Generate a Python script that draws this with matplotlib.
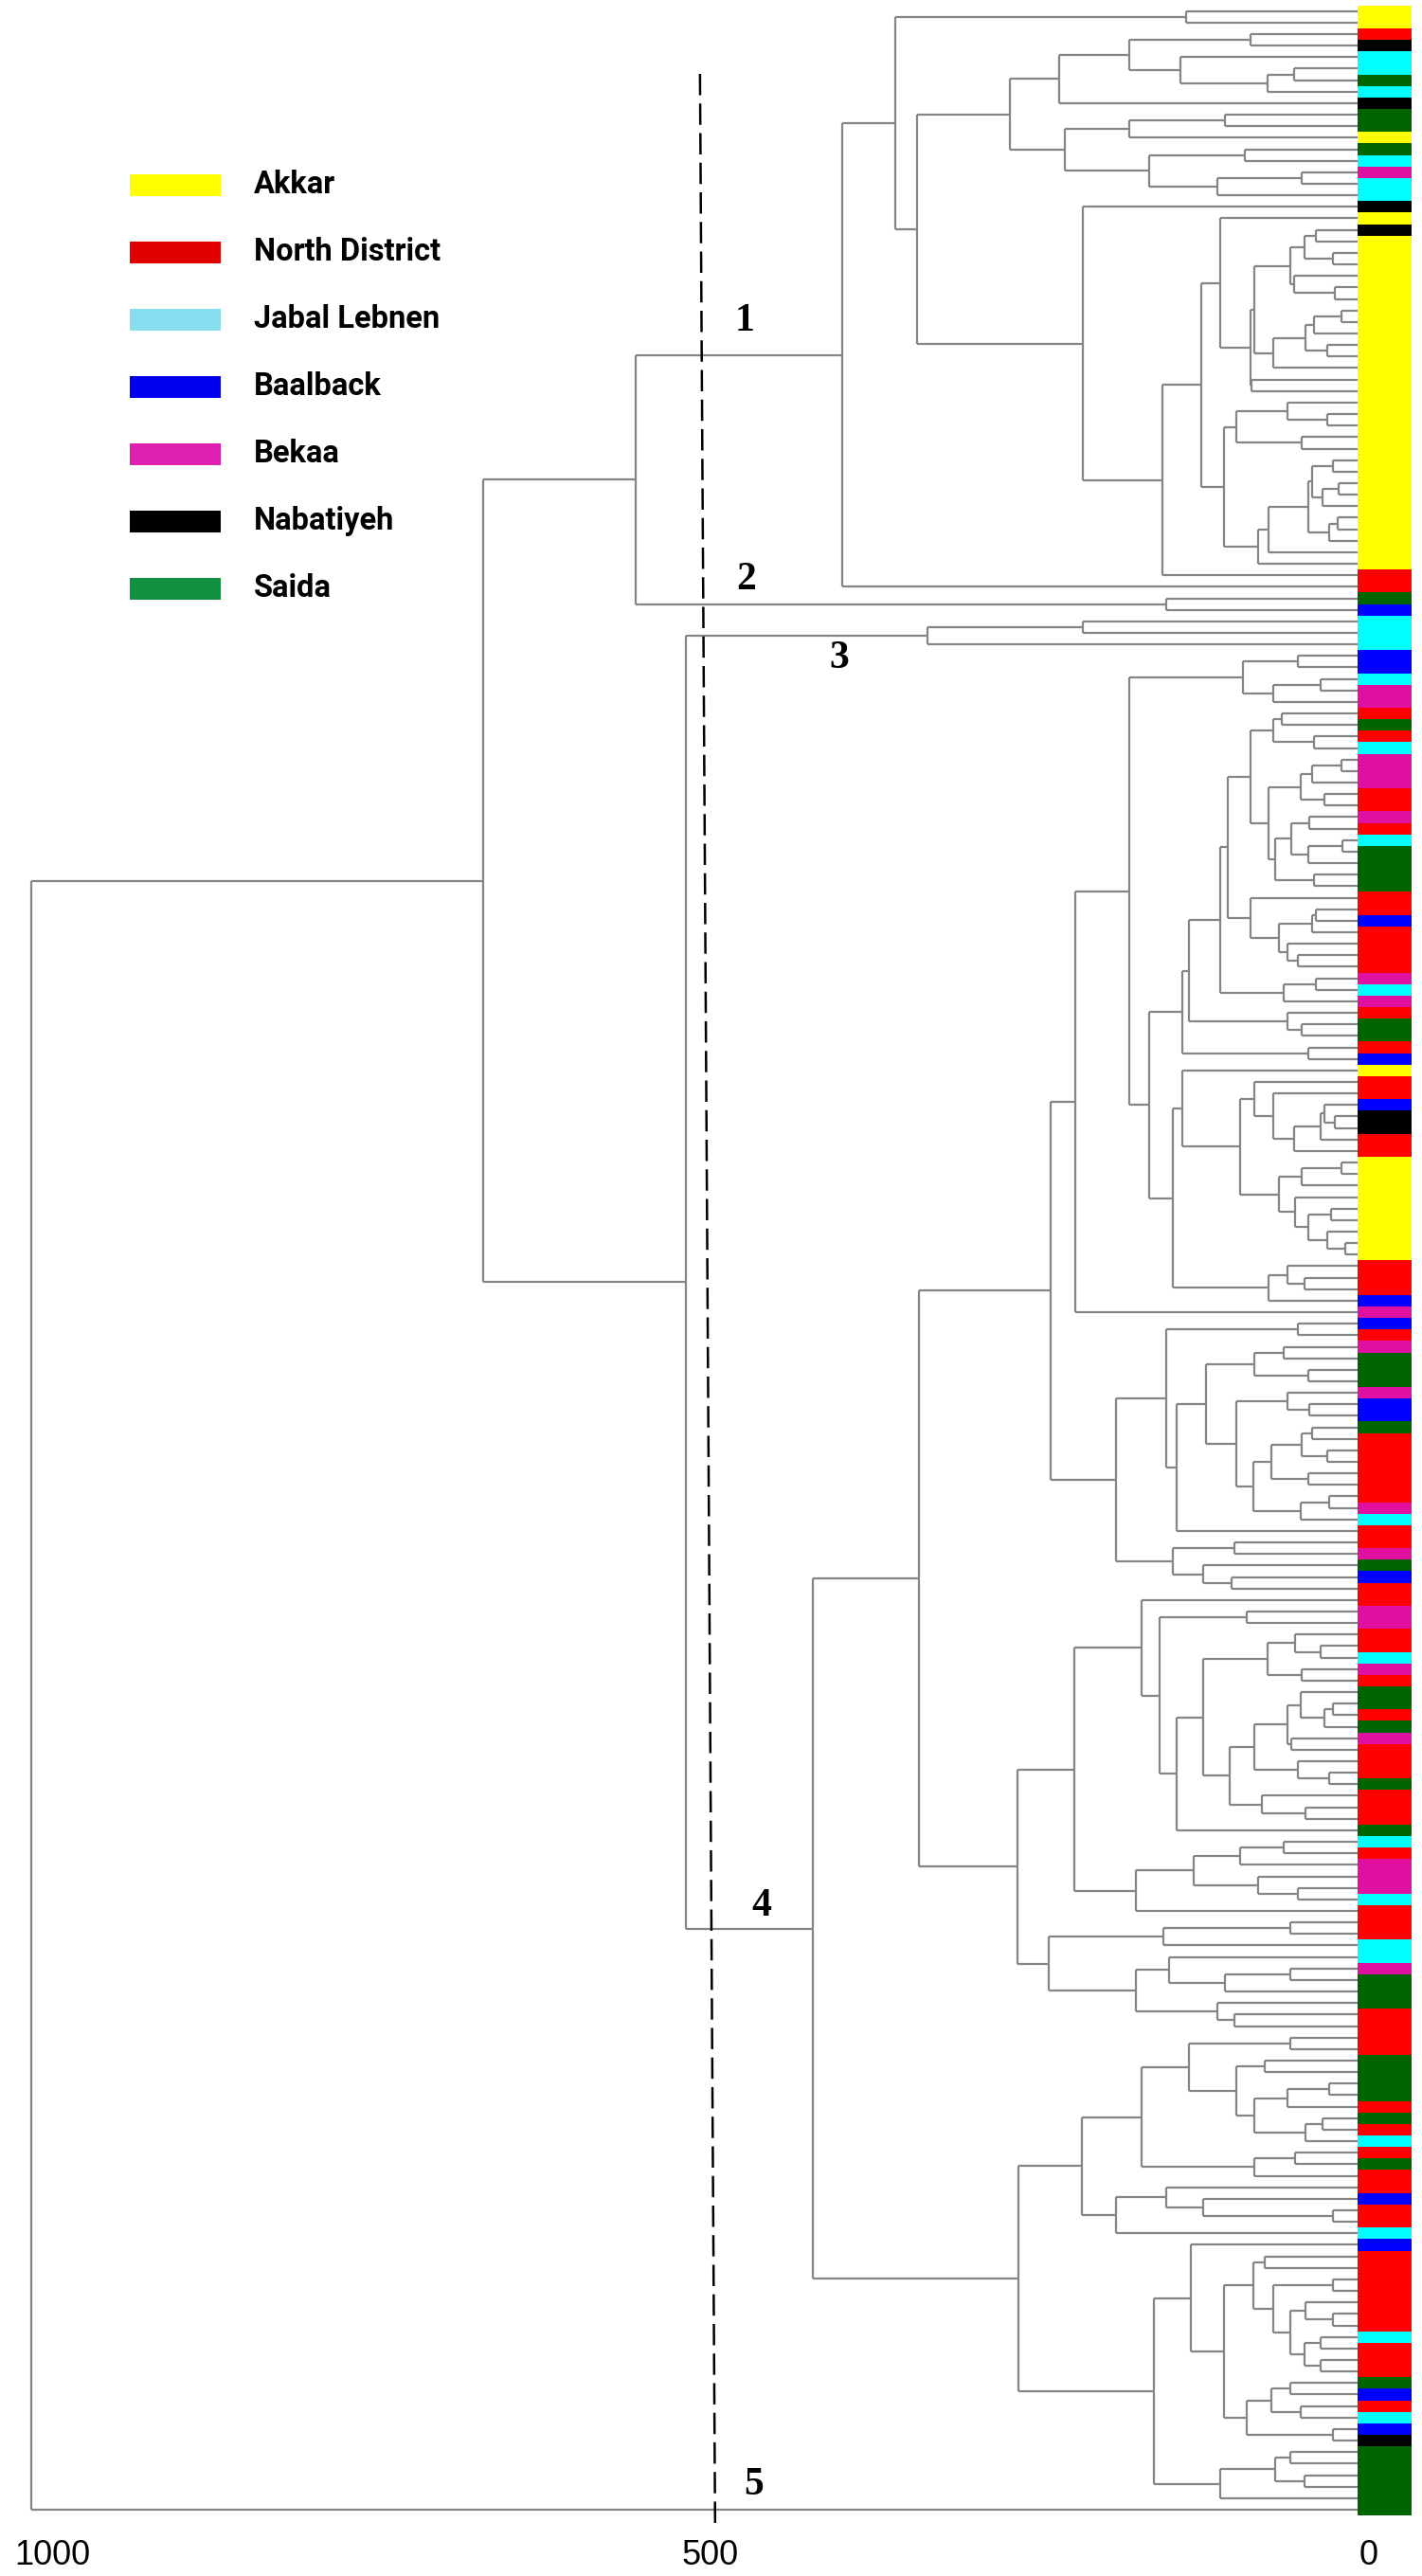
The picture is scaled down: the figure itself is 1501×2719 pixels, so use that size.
import matplotlib
matplotlib.use("Agg")
import matplotlib.pyplot as plt
from matplotlib.collections import LineCollection
from matplotlib.patches import Rectangle

# region codes -> names and colours
codes = ['Y', 'R', 'C', 'B', 'M', 'K', 'G']
regions = ['Akkar', 'North District', 'Jabal Lebnen', 'Baalback', 'Bekaa', 'Nabatiyeh', 'Saida']
legend_colors = ['#FFFF00', '#E00000', '#88DDEE', '#0000EE', '#E020B0', '#000000', '#109040']
bar_colors = ['#FFFF00', '#FF0000', '#00FFFF', '#0000FF', '#E010A0', '#000000', '#006400']

# tree nodes: [height, upper, lower], leaves are region codes
cluster_1 = [400,
    [360,
        [139, 'Y', 'Y'],
        [343,
            [273,
                [235,
                    [182, [90, 'R', 'K'],
                          [143, 'C', [77, [57, 'C', 'G'], 'C']]],
                    'K'],
                [231,
                    [182, [109, 'G', 'G'], 'Y'],
                    [167, [94, 'G', 'C'], [115, [51, 'M', 'C'], 'C']]]],
            [217, 'K',
                [157,
                    [127,
                        [113, 'Y',
                            [90,
                                [87,
                                    [60, [49, [40, 'K', 'Y'], [27, 'Y', 'Y']],
                                         [57, 'Y', [26, 'Y', 'Y']]],
                                    [73, [48, [42, [21, 'Y', 'Y'], 'Y'], [32, 'Y', 'Y']], 'Y']],
                                [89, 'Y', 'Y']]],
                        [110,
                            [101, [62, 'Y', [32, 'Y', 'Y']], [51, 'Y', 'Y']],
                            [84, [76, [46, [43, [27, 'Y', 'Y'], [35, [23, 'Y', 'Y'], 'Y']],
                                           [30, [24, 'Y', 'Y'], 'Y']],
                                      'Y'],
                                 'Y']]],
                    'R']]]],
    'R']

cluster_2 = [154, 'G', 'B']
cluster_3 = [335, [217, 'C', 'C'], 'C']

c4_a = [182,
    [96, [54, 'B', 'B'], [73, [37, 'C', 'M'], 'M']],
    [167,
        [142,
            [137,
                [113,
                    [107,
                        [90,
                            [73, [66, 'R', 'G'], [42, 'R', 'C']],
                            [76,
                                [52, [43, [21, 'M', 'M'], 'M'], [34, 'R', 'R']],
                                [71, [59, [45, 'M', 'R'], [46, [20, 'C', 'G'], 'G']],
                                     [42, 'G', 'G']]]],
                        [90, 'R', [68, [43, [40, 'R', 'B'], 'R'], [62, 'R', [54, 'R', 'R']]]]],
                    [65, [40, 'M', 'C'], 'M']],
                [62, 'R', [51, 'G', 'G']]],
            [46, 'R', 'B']],
        [149,
            [142, 'Y',
                [98,
                    [87, 'R', [73, 'R', [57, [37, [34, 'B', [26, 'K', 'K']], 'R'], 'R']]],
                    [68, [51, [21, 'Y', 'Y'], 'Y'],
                         [56, 'Y', [46, [29, 'Y', 'Y'], [32, 'Y', [18, 'Y', 'Y']]]]]]],
            [76, [62, 'R', [49, 'R', 'R']], 'B']]]]

c4_b = [192,
    [154, [54, 'B', 'R'],
        [146,
            [124,
                [87, [65, 'M', 'G'], [46, 'G', 'G']],
                [101,
                    [62, 'M', [45, 'B', 'B']],
                    [88,
                        [74, [51, [43, 'G', 'R'], [32, 'R', 'R']], [46, 'R', 'R']],
                        [52, [30, 'R', 'M'], 'C']]]],
            'R']],
    [149, [102, 'R', 'M'], [126, 'G', [104, 'B', 'R']]]]

c4_c = [224,
    [173, 'R',
        [159, [93, 'M', 'M'],
            [146,
                [126,
                    [77, [56, 'R', [37, 'R', 'C']], [51, 'M', 'R']],
                    [106,
                        [87,
                            [62, [52, 'G', [34, [27, 'G', 'R'], 'G']], [59, 'M', 'R']],
                            [54, 'R', [30, 'R', 'G']]],
                        [81, 'R', [48, 'R', 'R']]]],
                'G']]],
    [177, [133, [98, [65, 'C', 'R'], 'M'], [84, 'M', [54, 'M', 'C']]], 'R']]

c4_d = [243,
    [156, [60, 'R', 'R'], 'C'],
    [177, [152, 'C', [109, [60, 'M', 'G'], 'G']], [115, 'G', [102, 'R', 'R']]]]

c4_e = [218,
    [173,
        [137, [60, 'R', 'R'],
            [101, [79, 'G', 'G'],
                [87, [62, [30, 'G', 'G'], 'R'], [48, [35, 'G', 'R'], 'C']]]],
        [87, [56, 'R', 'G'], 'R']],
    [192, [154, 'R', [126, 'B', [27, 'R', 'R']]], 'C']]

c4_f = [163,
    [135, 'B',
        [110,
            [88, [79, 'R', 'R'],
                [73, [27, 'R', 'R'],
                    [60, [48, 'R', [27, 'R', 'R']], [49, [37, 'C', 'R'], [37, 'R', 'R']]]]],
            [93, [74, [60, 'G', 'B'], [52, 'R', 'C']], [27, 'B', 'K']]]],
    [113, [71, [60, 'G', 'G'], [49, 'G', 'G']], 'G']]

cluster_4 = [422, [342, [242, [223, c4_a, 'M'], c4_b], [267, c4_c, c4_d]], [266, c4_e, c4_f]]

tree = [1016, [673, [557, cluster_1, cluster_2], [519, cluster_3, cluster_4]], 'G']

cut_level = [508, 496.5]   # dashed cut line, top to bottom
cluster_marks = ['1', '2', '3', '4', '5']
mark_pos = [(474, 27.9), (473, 50.4), (402, 57.2), (461, 165.6), (467, 215.9)]
ticks = [1000, 500, 0]

leaves = []
segs = []


def walk(node):
    if isinstance(node, str):
        leaves.append(node)
        return float(len(leaves)), 0.0
    h, up, low = node
    y1, h1 = walk(up)
    y2, h2 = walk(low)
    segs.append([(h1, y1), (h, y1)])
    segs.append([(h2, y2), (h, y2)])
    segs.append([(h, y1), (h, y2)])
    return (y1 + y2) / 2, h


walk(tree)
n = len(leaves)

W, H = 1501, 2719
step = (2649 - 11.7) / (n - 1)


def px_x(px):
    return (1445 - px) / 1.39


def px_y(py):
    return 1 + (py - 11.7) / step


fig = plt.figure(figsize=(W / 100, H / 100), dpi=100)
ax = fig.add_axes([0, 0, 1, 1])
ax.set_xlim(px_x(0), px_x(W))
ax.set_ylim(px_y(H), px_y(0))
ax.axis('off')

ax.add_collection(LineCollection(segs, colors='#858585', linewidths=1.6, zorder=1))

cmap = dict(zip(codes, bar_colors))
ax.barh(range(1, n + 1), width=px_x(1433) - px_x(1490), left=px_x(1490), height=1.0,
        color=[cmap[c] for c in leaves], linewidth=0, zorder=3)

ax.plot(cut_level, [px_y(78), px_y(2668)], color='black', lw=1.8,
        ls=(0, (9, 3.5)), zorder=2)

for lab, (hx, yy) in zip(cluster_marks, mark_pos):
    ax.text(hx, yy, lab, fontsize=30, fontweight='bold', family=['Liberation Serif', 'DejaVu Serif'],
            ha='center', va='center')

for t in ticks:
    ax.text(t, px_y(2697), str(t), fontsize=26, family=['Liberation Sans', 'DejaVu Sans'],
            ha='center', va='center')

for i, (name, col) in enumerate(zip(regions, legend_colors)):
    yc = 195 + 71 * i
    ax.add_patch(Rectangle((px_x(233), px_y(yc - 11.5)), px_x(137) - px_x(233), px_y(yc + 11.5) - px_y(yc - 11.5),
                           color=col, lw=0))
    ax.text(px_x(268), px_y(yc), name, fontsize=23.5, fontweight='bold',
            family=['Roboto', 'DejaVu Sans'], ha='left', va='center')

fig.savefig('out.png', dpi=100)
